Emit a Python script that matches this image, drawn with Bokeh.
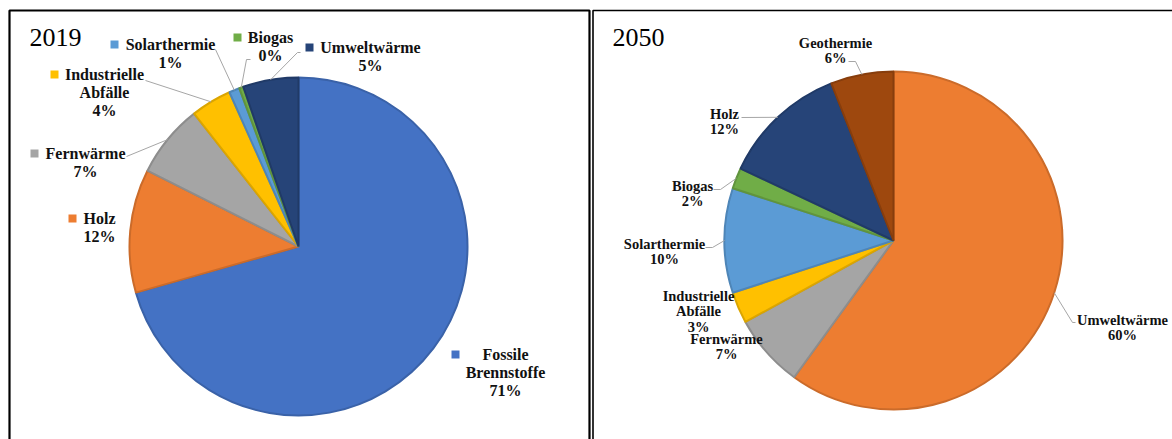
import math
from bokeh.plotting import figure
from bokeh.models import ColumnDataSource, Range1d
from bokeh.core.properties import value
from bokeh.embed import file_html
from bokeh.resources import INLINE

# ---------------- data ----------------
years = ["2019", "2050"]

cats_2019 = ["Fossile Brennstoffe", "Holz", "Fernwärme", "Industrielle Abfälle",
             "Solarthermie", "Biogas", "Umweltwärme"]
vals_2019 = [70.6, 11.8, 7.0, 3.9, 1.0, 0.4, 5.3]
colors_2019 = ["#4472C4", "#ED7D31", "#A5A5A5", "#FFC000", "#5B9BD5", "#70AD47", "#264478"]

cats_2050 = ["Umweltwärme", "Fernwärme", "Industrielle Abfälle", "Solarthermie",
             "Biogas", "Holz", "Geothermie"]
vals_2050 = [60, 7, 3, 10, 2, 12, 6]
colors_2050 = ["#ED7D31", "#A5A5A5", "#FFC000", "#5B9BD5", "#70AD47", "#264478", "#9E480E"]

# ---------------- layout (screen pixels) ----------------
W, H = 1172, 439
def X(sx): return sx
def Y(sy): return H - sy

R = 169
center_2019 = (298, 246)
center_2050 = (893, 240)

lab_2019 = {
    "Fossile Brennstoffe": dict(pos=(505, 354), sq=(455, 354), lead=None),
    "Holz": dict(pos=(99, 218), sq=(72, 218), lead=None),
    "Fernwärme": dict(pos=(85, 153), sq=(34, 153), lead=[(126, 156)]),
    "Industrielle Abfälle": dict(pos=(104, 74), sq=(54, 74), lead=[(145, 80)]),
    "Solarthermie": dict(pos=(170, 44), sq=(114, 44), lead=[(215, 49)]),
    "Biogas": dict(pos=(270, 37), sq=(237, 37), lead=[(250, 59), (246, 59)]),
    "Umweltwärme": dict(pos=(370, 47), sq=(309, 47), lead=[(300, 52), (297, 52)]),
}
lab_2050 = {
    "Umweltwärme": dict(pos=(1122, 319), sq=None, lead=[(1075, 322), (1072, 322)]),
    "Fernwärme": dict(pos=(726, 338), sq=None, lead=None),
    "Industrielle Abfälle": dict(pos=(698, 295), sq=None, lead=None),
    "Solarthermie": dict(pos=(664, 243), sq=None, lead=[(705, 247), (712, 247)]),
    "Biogas": dict(pos=(692, 185), sq=None, lead=[(713, 189), (720, 189)]),
    "Holz": dict(pos=(724, 113), sq=None, lead=[(741, 117)]),
    "Geothermie": dict(pos=(835, 42), sq=None, lead=[(848, 61), (855, 61)]),
}

FONT = value("Liberation Serif")
TXT = "#111111"


def darken(hx, f=0.86):
    hx = hx.lstrip("#")
    r, g, b = (int(hx[i:i + 2], 16) for i in (0, 2, 4))
    return "#%02x%02x%02x" % (int(r * f), int(g * f), int(b * f))


p = figure(width=W, height=H, output_backend="svg", toolbar_location=None,
           x_range=Range1d(0, W), y_range=Range1d(0, H), min_border=0,
           outline_line_color=None)
p.axis.visible = False
p.grid.visible = False
p.background_fill_color = "white"
p.border_fill_color = "white"

# panel frames
p.quad(left=[X(9), X(592.5)], right=[X(589), X(1300)], top=[Y(10), Y(10)],
       bottom=[Y(600), Y(600)], fill_color=None, line_color="black",
       line_width=[2.2, 1.6])


def draw_pie(cats, vals, colors, center, labels, spacing, fsize, squares):
    cx, cy = X(center[0]), Y(center[1])
    total = float(sum(vals))
    c0 = 0.0
    starts, ends, mids = [], [], []
    for v in vals:
        c1 = c0 + v / total
        starts.append(math.pi / 2 - 2 * math.pi * c1)
        ends.append(math.pi / 2 - 2 * math.pi * c0)
        mids.append((c0 + c1) / 2)
        c0 = c1
    src = ColumnDataSource(dict(cat=cats, val=vals, start=starts, end=ends,
                                fill=colors, edge=[darken(c) for c in colors]))
    p.wedge(x=cx, y=cy, radius=R, start_angle="start", end_angle="end",
            direction="anticlock", fill_color="fill", line_color="edge",
            line_width=2, source=src)

    # leader lines
    xs, ys = [], []
    for cat, m in zip(cats, mids):
        lead = labels[cat]["lead"]
        if not lead:
            continue
        th = 2 * math.pi * m
        ex, ey = cx + R * math.sin(th), cy + R * math.cos(th)
        xs.append([X(a) for a, b in lead] + [ex])
        ys.append([Y(b) for a, b in lead] + [ey])
    if xs:
        p.multi_line(xs=xs, ys=ys, line_color="#A6A6A6", line_width=1)

    # texts
    tx, ty, tt = [], [], []
    for cat, v in zip(cats, vals):
        sx, sy = labels[cat]["pos"]
        lines = cat.split(" ") + ["%d%%" % round(v)]
        for i, ln in enumerate(lines):
            tx.append(X(sx))
            ty.append(Y(sy + i * spacing))
            tt.append(ln)
    p.text(x=tx, y=ty, text=tt, text_font=FONT, text_font_style="bold",
           text_font_size=fsize, text_align="center", text_baseline="middle",
           text_color=TXT)

    if squares:
        qx = [X(labels[c]["sq"][0]) for c in cats]
        qy = [Y(labels[c]["sq"][1]) for c in cats]
        p.scatter(x=qx, y=qy, marker="square", size=8, fill_color=colors,
                  line_color=None)


draw_pie(cats_2019, vals_2019, colors_2019, center_2019, lab_2019, 18, "16px", True)
draw_pie(cats_2050, vals_2050, colors_2050, center_2050, lab_2050, 15.5, "14.5px", False)

# year titles
p.text(x=[X(29), X(612)], y=[Y(37), Y(37)], text=years, text_font=FONT,
       text_font_size="26px", text_align="left", text_baseline="middle",
       text_color="black")

open("out.html", "w").write(file_html(p, INLINE))
